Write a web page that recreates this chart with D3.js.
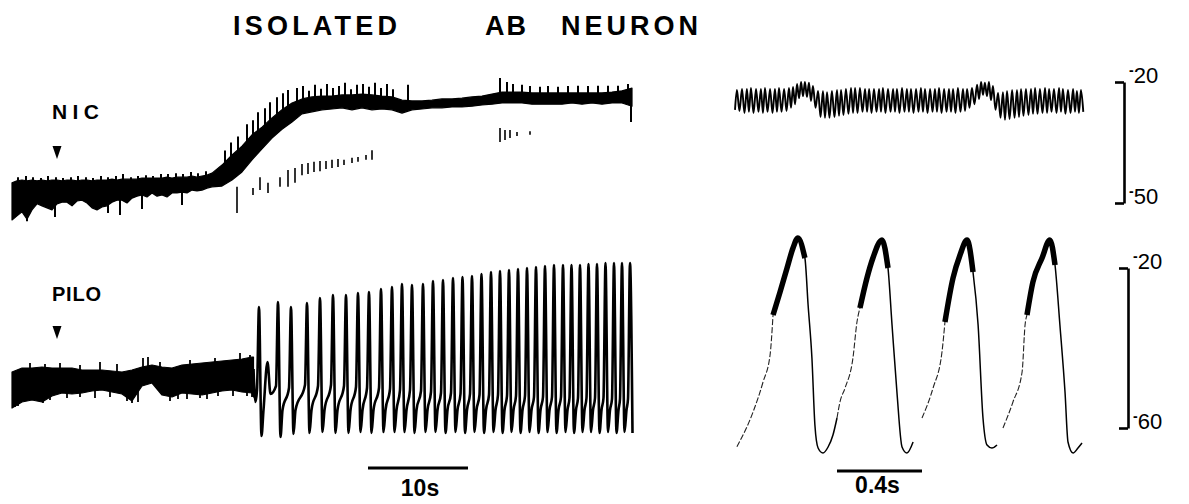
<!DOCTYPE html>
<html><head><meta charset="utf-8">
<script src="https://cdn.jsdelivr.net/npm/d3@7"></script>
<style>
html,body{margin:0;padding:0;background:#fff;}
svg{display:block;}
text{font-family:"Liberation Sans",Arial,Helvetica,sans-serif;fill:#000;}
</style></head><body>
<svg id="chart" width="1189" height="504"></svg>
<script>
// ---------------- DATA ----------------
// NIC recording (time s, membrane potential mV): envelope of the dense trace
const nicT = [0,0.5,1,1.5,2,2.5,3,3.5,4,4.5,5,5.5,6,6.5,7,7.5,8,8.5,9,9.5,10,10.5,11,11.5,12,12.5,13,13.5,14,14.5,15,15.5,16,16.5,17,17.5,18,18.5,19,19.5,20,
  21,22,23,24,25,26,27,28,29,30,31,32,33,34,35,36,37,38,39,40,41,42,43,44,45,46,47,48,49,50,51,52,53,54,55,56,57,58,59,60,61,62];
const nicHi = [-45.0,-44.5,-44.3,-44.5,-44.3,-44.5,-44.3,-44.5,-44.3,-44.3,-44.5,-44.3,-44.3,-44.5,-44.3,-44.3,-44.5,-44.3,-44.3,-44.3,-44.1,-44.3,-44.1,-44.1,-44.1,-44.1,-43.8,-43.8,-43.8,-43.8,-43.8,-43.6,-43.8,-43.6,-43.6,-43.6,-43.3,-43.6,-43.3,-43.1,-42.6,
  -40.6,-38.1,-35.9,-33.1,-31.2,-28.9,-26.9,-25.2,-24.2,-23.7,-23.5,-23.5,-23.2,-23.2,-23.0,-23.2,-23.5,-23.7,-24.5,-24.7,-24.7,-24.5,-24.2,-24.2,-24.0,-23.7,-23.5,-23.0,-22.5,-22.5,-22.5,-22.7,-22.7,-22.7,-22.7,-22.7,-22.7,-22.7,-22.7,-22.5,-22.2,-21.5];
const nicLo = [-54.2,-53.2,-52.2,-54.0,-51.7,-50.2,-50.7,-51.2,-51.7,-50.2,-49.8,-49.8,-50.7,-49.5,-49.3,-50.0,-51.2,-51.7,-51.0,-50.7,-49.8,-49.3,-49.3,-50.0,-48.8,-48.3,-48.0,-48.5,-47.5,-48.3,-48.0,-48.5,-47.5,-47.5,-47.3,-47.5,-46.8,-47.0,-46.8,-46.3,-46.0,
  -45.8,-44.3,-42.3,-39.3,-36.6,-33.9,-31.7,-29.9,-27.9,-27.4,-26.9,-26.7,-26.4,-26.9,-26.4,-26.9,-26.7,-26.9,-27.7,-26.9,-26.7,-26.4,-26.4,-26.2,-26.2,-26.0,-25.7,-25.5,-25.2,-25.2,-25.2,-25.5,-25.5,-25.5,-25.5,-25.2,-25.5,-25.2,-25.5,-25.2,-25.2,-26.0];
// NIC spike tips above the band
const nicSpikeT = [0.6,1.4,2.1,2.9,3.6,4.4,5.1,5.9,6.6,7.4,8.1,8.9,9.6,10.4,11.1,11.9,12.6,13.4,14.1,14.9,15.6,16.4,17.1,17.9,18.6,19.4,
  21.3,21.9,22.6,23.5,24.1,24.6,25.3,25.8,26.5,27.1,27.6,
  28.5,29.1,29.7,30.3,30.9,31.5,32.1,32.7,33.3,33.9,34.5,35.1,35.7,36.3,36.9,37.5,38.1,39.6,
  48.8,49.5,50.1,51.0,51.8,52.8,53.6,54.6,55.6,56.6,57.6,58.6,59.6,60.6,61.6];
const nicSpikeV = [-43.6,-43.3,-43.6,-43.8,-43.3,-43.6,-43.8,-43.6,-43.3,-43.6,-43.8,-43.3,-43.6,-43.3,-42.8,-43.6,-43.3,-43.1,-43.3,-42.8,-42.8,-42.6,-42.8,-42.3,-42.6,-42.1,
  -37.0,-35.0,-33.5,-30.5,-29.5,-27.5,-26.5,-25.0,-23.8,-22.8,-22.0,
  -21.5,-21.0,-22.2,-20.7,-21.7,-20.5,-21.5,-21.0,-20.2,-21.8,-20.7,-20.5,-21.2,-20.2,-21.5,-20.5,-21.8,-20.7,
  -19.0,-20.0,-20.5,-20.7,-21.0,-21.2,-21.0,-21.2,-21.0,-20.9,-21.0,-20.9,-20.9,-20.9,-20.5];
// NIC downward excursions below the band
const nicDropT = [1.5,4.3,9.6,10.8,13.0,17.0,61.9];
const nicDropV = [-54.5,-53.5,-52.5,-53.0,-51.5,-50.5,-29.9];
// faint spike tails printed below the band
const nicTailT  = [22.5,24.1,24.8,25.6,26.8,27.6,28.3,29.0,29.6,30.2,30.8,31.4,32.0,32.6,33.2,34.0,34.6,35.4,36.0,48.8,49.3,49.8,50.5,51.8];
const nicTailHi = [-46.0,-46.3,-43.6,-45.0,-43.6,-41.8,-41.3,-40.3,-40.1,-39.8,-39.6,-39.6,-39.3,-39.1,-39.3,-38.8,-38.6,-38.1,-36.9,-31.4,-31.9,-31.9,-32.4,-32.2];
const nicTailLo = [-52.5,-48.0,-46.8,-47.5,-46.0,-46.0,-45.0,-43.1,-42.8,-42.3,-42.1,-41.6,-41.3,-41.1,-40.6,-40.1,-39.8,-39.3,-39.3,-34.9,-34.4,-33.9,-33.4,-33.1];
const nicArrowT = 4.5;

// PILO recording: pre-burst band
const piloT  = [0,1,2,3,4,5,6,7,8,9,10,11,12,13,14,15,16,17,18,19,20,21,22,23,24,24.15];
const piloHi = [-46,-45,-45,-44.75,-45,-45,-45,-45.5,-45.5,-45.5,-45.75,-46,-45.5,-44.75,-44.25,-44.75,-45,-44.25,-44,-43.75,-43.5,-43.25,-43,-42.75,-42.25,-42.25];
const piloLo = [-55,-53.5,-53,-53.5,-52,-51.25,-51.5,-51.25,-50.75,-50.5,-51,-51.5,-53.25,-49.5,-48.75,-51.75,-52.25,-51.25,-51.5,-51.75,-51.25,-50.75,-50.5,-51,-51.25,-52.25];
const piloDropT = [0.3,0.6,2.6,3.1,3.8,5.5,6.8,8.3,9.8,11.5,12.0,12.6,15.8,16.6,17.5,18.8,19.5,20.6,22.1,23.5,24.0];
const piloDropV = [-54.75,-54.5,-53,-53.75,-53,-52.5,-52.25,-52.5,-52.25,-53.25,-53.75,-53.5,-53.25,-52.75,-52.75,-52.5,-52.75,-52,-52,-52,-52.25];
const piloTickT = [1.8,3.3,4.8,6.8,8.8,10.5,13.1,13.6,14.8,17.8,20.3,22.8,23.8];
const piloTickV = [-43.75,-44,-43.75,-44.25,-43.5,-44,-42.5,-42.25,-43.5,-43,-42.5,-41.25,-41.75];
// PILO bursting: spike peak times, peaks, troughs, pre-spike shoulder
const piloSpikeT = [24.7,26.6,27.9,29.5,30.8,32.1,33.4,34.6,35.7,36.9,38.0,39.0,40.0,41.1,42.1,
  43.1,44.1,45.05,46.0,46.95,47.9,48.8,49.7,50.6,51.5,52.4,53.3,54.2,55.1,55.95,56.8,57.65,58.5,59.35,60.2,61.0,61.8];
const piloPeak = [-29.75,-28.5,-29.75,-28.75,-27.5,-26.75,-26.75,-26.25,-26,-25.25,-24.75,-24,-24.25,-24,-23.25,
  -23,-22.5,-22.25,-22,-21.5,-21,-20.75,-20.5,-20.25,-20,-19.75,-19.5,-19.25,-19.25,-19.25,-19.25,-19,-19,-18.75,-18.75,-18.75,-18.75];
const piloTrough = [-62,-62.25,-61.5,-61.25,-61,-61.25,-61.25,-61,-61.25,-61,-61,-61,-61.25,-61,-61,
  -61.25,-61,-61.25,-61,-61.25,-61,-61.25,-61,-61.25,-61,-61.25,-61,-61.25,-61,-61.25,-61,-61,-61.25,-61,-61.25,-61,-61.25];
const piloShoulder = [-50.5,-49.5,-50,-49.25,-49.5,-49.25,-49.5,-49.75,-50,-50,-50.25,-50.5,-50.5,-50.75,-51,
  -51.25,-51.25,-51.5,-51.5,-51.75,-51.75,-51.75,-52,-52,-52,-52.25,-52.25,-52.25,-52.25,-52.5,-52.5,-52.5,-52.5,-52.5,-52.75,-52.75,-52.75];
const piloRecover = -55.5;
const piloExtraT = [24.35,25.55,25.85];
const piloExtraV = [-53.5,-43.5,-51.5];
const piloArrowT = 4.5;

// NIC fast sweep (ms, mV)
const nicFastPeakMs = [9,33,56,75,99,122,141,165,188,207,231,254,273,
  292,311,329,348,367,
  391,414,433,456,480,499,522,546,565,588,612,631,654,678,696,720,744,762,786,809,828,852,875,894,918,941,960,984,1007,1026,1049,1073,1092,1115,
  1139,1158,1176,1195,1214,
  1238,1261,1280,1304,1327,1346,1369,1393,1412,1435,1459,1478,1501,1525,1543,1567,1591,1609,1628];
const nicFastPeakV = [-22.0,-21.7,-21.7,-21.5,-21.7,-21.7,-21.5,-21.7,-21.7,-21.5,-21.7,-21.5,-21.2,
  -20.5,-20.0,-20.0,-20.2,-21.0,
  -22.2,-22.2,-22.5,-22.2,-22.0,-22.0,-21.7,-21.5,-21.5,-21.5,-21.7,-21.7,-21.7,-21.7,-21.5,-21.7,-21.7,-21.7,-21.5,-21.7,-21.7,-21.7,-21.5,-21.7,-21.7,-21.7,-21.5,-21.7,-21.7,-21.7,-21.5,-21.7,-21.7,-21.5,
  -20.7,-20.0,-20.2,-20.0,-21.0,
  -22.7,-22.5,-22.2,-22.0,-22.0,-21.7,-21.7,-21.7,-21.5,-21.7,-21.5,-21.7,-21.7,-21.5,-21.7,-22.0,-21.7,-22.2,-22.0];
const nicFastTroughV = [-27.2,-27.7,-27.4,-27.7,-27.4,-27.7,-27.4,-27.7,-27.4,-27.4,-27.2,-26.4,-25.5,
  -24.0,-23.5,-23.7,-24.7,-26.4,
  -28.7,-28.9,-28.9,-28.7,-28.4,-28.2,-27.9,-27.7,-27.7,-27.4,-27.4,-27.7,-27.4,-27.4,-27.7,-27.4,-27.4,-27.7,-27.4,-27.4,-27.7,-27.4,-27.4,-27.7,-27.4,-27.4,-27.7,-27.4,-27.4,-27.7,-27.4,-27.2,-26.4,-25.5,
  -24.2,-23.2,-23.5,-24.5,-26.9,
  -28.9,-29.4,-29.2,-28.9,-28.7,-28.4,-28.2,-27.9,-27.9,-27.7,-27.7,-27.4,-27.7,-27.4,-27.9,-27.7,-27.4,-27.7,-27.4];
const nicFastStartV = -26.9;

// PILO fast sweep (s, mV)
const piloFastT = [0.009,0.085,0.132,0.165,0.179,0.212,0.245,0.273,0.296,0.329,0.344,0.362,0.376,0.391,0.414,0.438,0.461,0.480,0.494,0.518,0.555,0.574,0.588,0.621,0.649,0.692,0.720,0.739,0.762,0.786,0.809,0.838,0.880,0.932,0.974,0.988,1.026,1.059,1.092,1.120,1.144,1.167,1.186,1.209,1.233,1.261,1.308,1.351,1.365,1.374,1.402,1.445,1.482,1.506,1.529,1.553,1.567,1.591,1.614,1.633];
const piloFastV = [-64.7,-56,-48.5,-41.75,-31.75,-26,-20,-15,-12.5,-17.5,-29.25,-42.5,-59.25,-65,-66.25,-64.75,-61.75,-57.5,-53.5,-50,-42.5,-33.5,-30,-22.5,-17.5,-13,-20,-34.25,-51,-64.75,-66.25,-63.5,-57.5,-50,-41,-33.5,-22.5,-16.75,-13,-21,-34.25,-57.5,-64.25,-65,-64.25,-60,-53.5,-46,-34.25,-31.75,-23.5,-17.5,-13,-19.25,-34.25,-51,-63.5,-66.25,-65,-63.75];
const piloBurstStart = [0.179,0.588,0.988,1.374];
const piloBurstEnd   = [0.329,0.720,1.120,1.506];
const piloFaintStart = [0.0,0.48,0.86,1.26];
const piloFaintEnd   = [0.179,0.588,0.988,1.374];

// labels and scale bars
const titleWords = ["ISOLATED","AB","NEURON"];
const rowLabels = ["NIC","PILO"];
const nicTicks = [-20,-50];
const piloTicks = [-20,-60];
const slowBar = {start:35.6, len:10, label:"10s"};
const fastBar = {start:0.48, len:0.4, label:"0.4s"};

// ---------------- DRAW ----------------
const svg = d3.select("#chart");
svg.append("rect").attr("width",1189).attr("height",504).attr("fill","#fff");

const xL = d3.scaleLinear().domain([0,62]).range([12,632]);
const yN = d3.scaleLinear().domain([-20,-50]).range([82,203]);
const yP = d3.scaleLinear().domain([-20,-60]).range([268,428]);
const xR = d3.scaleLinear().domain([0,1.64]).range([735,1083.5]);

function interp(ts, vs, t){
  let i = d3.bisectLeft(ts, t);
  i = Math.max(1, Math.min(ts.length-1, i));
  const f = Math.max(0, Math.min(1, (t-ts[i-1])/(ts[i]-ts[i-1])));
  return vs[i-1] + (vs[i]-vs[i-1])*f;
}

// title
const titleX = [[233,164],[485,41],[561,137]];
svg.append("g").selectAll("text").data(titleWords).join("text")
  .attr("x",(d,i)=>titleX[i][0]).attr("y",35)
  .attr("textLength",(d,i)=>titleX[i][1]).attr("lengthAdjust","spacing")
  .attr("font-size",27).attr("font-weight","bold").text(d=>d);

// row labels + arrows
svg.append("text").attr("x",52).attr("y",119).attr("font-size",21).attr("font-weight","bold")
  .attr("textLength",47).attr("lengthAdjust","spacing").text(rowLabels[0]);
svg.append("text").attr("x",52).attr("y",301).attr("font-size",20).attr("font-weight","bold")
  .attr("textLength",49).attr("lengthAdjust","spacing").text(rowLabels[1]);
function arrow(x, yTop){
  svg.append("path").attr("d",`M${x-4.5},${yTop}L${x+4.5},${yTop}L${x},${yTop+13}Z`).attr("fill","#000");
}
arrow(xL(nicArrowT), 146);
arrow(xL(piloArrowT), 326);

// generic band
const bandArea = (x,y)=>d3.area().x(d=>x(d.t)).y0(d=>y(d.lo)).y1(d=>y(d.hi));

// NIC band
const nicBand = nicT.map((t,i)=>({t,hi:nicHi[i],lo:nicLo[i]}));
svg.append("path").datum(nicBand).attr("d",bandArea(xL,yN))
  .attr("fill","#000").attr("stroke","#000").attr("stroke-width",1.2).attr("stroke-linejoin","round");
svg.append("g").selectAll("line").data(nicSpikeT).join("line")
  .attr("x1",t=>xL(t)).attr("x2",t=>xL(t))
  .attr("y1",(t,i)=>yN(nicSpikeV[i])).attr("y2",t=>yN(interp(nicT,nicHi,t)-0.8))
  .attr("stroke","#000").attr("stroke-width",2);
svg.append("g").selectAll("line").data(nicDropT).join("line")
  .attr("x1",t=>xL(t)).attr("x2",t=>xL(t))
  .attr("y1",(t,i)=>yN(nicDropV[i])).attr("y2",t=>yN(interp(nicT,nicLo,t)+0.8))
  .attr("stroke","#000").attr("stroke-width",2);
svg.append("g").selectAll("line").data(nicTailT).join("line")
  .attr("x1",t=>xL(t)).attr("x2",t=>xL(t))
  .attr("y1",(t,i)=>yN(nicTailHi[i])).attr("y2",(t,i)=>yN(nicTailLo[i]))
  .attr("stroke","#000").attr("stroke-width",1.6);

// PILO band
const piloBand = piloT.map((t,i)=>({t,hi:piloHi[i],lo:piloLo[i]}));
svg.append("path").datum(piloBand).attr("d",bandArea(xL,yP))
  .attr("fill","#000").attr("stroke","#000").attr("stroke-width",1.2).attr("stroke-linejoin","round");
svg.append("g").selectAll("line").data(piloDropT).join("line")
  .attr("x1",t=>xL(t)).attr("x2",t=>xL(t))
  .attr("y1",(t,i)=>yP(piloDropV[i])).attr("y2",t=>yP(interp(piloT,piloLo,t)+0.8))
  .attr("stroke","#000").attr("stroke-width",1.8);
svg.append("g").selectAll("line").data(piloTickT).join("line")
  .attr("x1",t=>xL(t)).attr("x2",t=>xL(t))
  .attr("y1",(t,i)=>yP(piloTickV[i])).attr("y2",t=>yP(interp(piloT,piloHi,t)-0.8))
  .attr("stroke","#000").attr("stroke-width",1.8);

// PILO bursting trace
const pts = [[piloT[piloT.length-1], piloHi[piloHi.length-1]-3]];
piloSpikeT.forEach((tp,i)=>{
  pts.push([tp-0.2, piloShoulder[i]]);
  pts.push([tp, piloPeak[i]]);
  pts.push([tp+0.25, piloTrough[i]]);
  if(i < piloSpikeT.length-1) pts.push([tp+0.45, piloRecover]);
});
piloExtraT.forEach((t,i)=>pts.push([t, piloExtraV[i]]));
pts.sort((a,b)=>a[0]-b[0]);
svg.append("path").datum(pts)
  .attr("d", d3.line().x(d=>xL(d[0])).y(d=>yP(d[1])).curve(d3.curveMonotoneX))
  .attr("fill","none").attr("stroke","#000").attr("stroke-width",2.6).attr("stroke-linejoin","round");

// NIC fast sweep
const nf = [[0, nicFastStartV]];
nicFastPeakMs.forEach((ms,i)=>{
  nf.push([ms/1000, nicFastPeakV[i]]);
  const next = i < nicFastPeakMs.length-1 ? nicFastPeakMs[i+1] : ms+22;
  nf.push([(ms+next)/2000, nicFastTroughV[i]]);
});
svg.append("path").datum(nf)
  .attr("d", d3.line().x(d=>xR(d[0])).y(d=>yN(d[1])).curve(d3.curveMonotoneX))
  .attr("fill","none").attr("stroke","#000").attr("stroke-width",1.9);

// PILO fast sweep
const pf = piloFastT.map((t,i)=>[t, piloFastV[i]]);
const seg = (a,b)=>pf.filter(d=>d[0]>=a-1e-9 && d[0]<=b+1e-9);
const fastLine = d3.line().x(d=>xR(d[0])).y(d=>yP(d[1])).curve(d3.curveMonotoneX);
const solidStart = piloFaintEnd;
const solidEnd = piloFaintStart.slice(1).concat([1.64]);
solidStart.forEach((a,i)=>{
  svg.append("path").datum(seg(a, solidEnd[i])).attr("d",fastLine)
    .attr("fill","none").attr("stroke","#000").attr("stroke-width",1.5);
});
piloFaintStart.forEach((a,i)=>{
  svg.append("path").datum(seg(a, piloFaintEnd[i])).attr("d",fastLine)
    .attr("fill","none").attr("stroke","#222").attr("stroke-width",1.1).attr("stroke-dasharray","6 2");
});
piloBurstStart.forEach((a,i)=>{
  svg.append("path").datum(seg(a, piloBurstEnd[i])).attr("d",fastLine)
    .attr("fill","none").attr("stroke","#000").attr("stroke-width",5.5).attr("stroke-linejoin","round");
});

// calibration brackets via axes
function bracket(scale, ticks, x){
  const g = svg.append("g").attr("transform",`translate(${x},0)`)
    .call(d3.axisRight(scale).tickValues(ticks).tickSizeInner(-9).tickSizeOuter(0).tickPadding(5));
  g.select(".domain").attr("stroke","#000").attr("stroke-width",2.6);
  g.selectAll(".tick line").attr("stroke","#000").attr("stroke-width",2.6);
  g.attr("font-family",null).attr("font-size",null);
  g.selectAll(".tick text").each(function(d){
    const t = d3.select(this);
    t.text(null).attr("font-size",22).attr("fill","#000").attr("dy","0.36em");
    t.append("tspan").attr("font-size",14).attr("font-weight","bold").attr("dy","-0.55em").text("-");
    t.append("tspan").attr("font-size",22).attr("dy","0.35em").text(Math.abs(d));
  });
}
bracket(yN, nicTicks, 1124);
bracket(yP, piloTicks, 1128);

// time scale bars
svg.append("line").attr("x1",xL(slowBar.start)).attr("x2",xL(slowBar.start+slowBar.len))
  .attr("y1",468).attr("y2",468).attr("stroke","#000").attr("stroke-width",3);
svg.append("text").attr("x",xL(slowBar.start+slowBar.len/2)+2).attr("y",496)
  .attr("text-anchor","middle").attr("font-size",23).attr("font-weight","bold").text(slowBar.label);
svg.append("line").attr("x1",xR(fastBar.start)).attr("x2",xR(fastBar.start+fastBar.len))
  .attr("y1",471).attr("y2",471).attr("stroke","#000").attr("stroke-width",3);
svg.append("text").attr("x",xR(fastBar.start+fastBar.len/2)-2).attr("y",493)
  .attr("text-anchor","middle").attr("font-size",23).attr("font-weight","bold").text(fastBar.label);
</script>
</body></html>
